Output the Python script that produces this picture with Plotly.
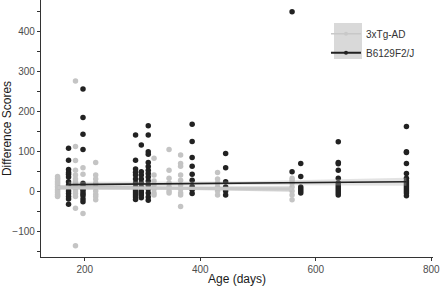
import plotly.graph_objects as go

# ---- data ----
tg_ages = [153, 184, 197, 219, 320, 346, 366, 430, 559]
tg_scores = [
    [36, 32, 28, 24, 20, 16, 12, 8, 4, 0, -4, -8, -12, -14],
    [275, 111, 76, 52, 40, 30, 23, 15, 8, 0, -6, -14, -43, -137],
    [58, 42, 20, 5, -8, -56],
    [71, 40, 30, 20, 10, 0, -8, -14, -22],
    [82, 40, 25, 15, 5, -5, -10],
    [104, 52, 32, 20, 10, 0, -5],
    [90, 69, 62, 40, 27, 15, 5, -5, -10, -39],
    [46, 30, 20, 10, 0, -10],
    [32, 27, 20, 10, 0, -10, -22],
]
b6_ages = [172, 197, 288, 298, 310, 386, 444, 559, 574, 639, 757]
b6_scores = [
    [107, 77, 54, 46, 42, 35, 23, 15, 8, 0, -6, -14, -20, -33],
    [255, 184, 142, 104, 19, 12, 5, 0, -6, -12, -20, -27],
    [140, 77, 55, 47, 40, 30, 20, 10, 5, 0, -5, -10, -15, -21],
    [115, 48, 40, 30, 20, 10, 0, -5, -10, -17],
    [163, 140, 98, 92, 71, 61, 52, 44, 35, 25, 15, 5, -5, -15, -23],
    [167, 124, 84, 62, 42, 27, 11, 3, -6],
    [94, 58, 23, 10, 0, -10],
    [448, 48],
    [69, 36, 10, 5, 0, -5],
    [123, 71, 68, 52, 32, 20, 15, 10, 5, 0, -5, -10],
    [161, 98, 96, 69, 44, 32, 25, 20, 15, 10, 5, 0, -5, -12],
]

# fitted lines and confidence bands
tg_fit_x = [153, 356, 559]
tg_fit_y = [9, 7, 5]
tg_fit_lo = [3, 3, -2]
tg_fit_hi = [15, 11, 12]
b6_fit_x = [172, 464, 757]
b6_fit_y = [16, 19.5, 23]
b6_fit_lo = [9, 15, 13]
b6_fit_hi = [23, 24, 33]

series_names = ["3xTg-AD", "B6129F2/J"]


def flatten(ages, scores):
    xs, ys = [], []
    for a, vals in zip(ages, scores):
        xs += [a] * len(vals)
        ys += vals
    return xs, ys


tg_x, tg_y = flatten(tg_ages, tg_scores)
b6_x, b6_y = flatten(b6_ages, b6_scores)

GRAY = "#c4c4c4"
BLACK = "#222222"

fig = go.Figure()
fig.add_trace(go.Scatter(x=tg_x, y=tg_y, mode="markers", showlegend=False,
                         marker=dict(color=GRAY, size=5.5)))
fig.add_trace(go.Scatter(x=b6_x, y=b6_y, mode="markers", showlegend=False,
                         marker=dict(color=BLACK, size=5.5)))

# ribbons
fig.add_trace(go.Scatter(x=tg_fit_x + tg_fit_x[::-1], y=tg_fit_hi + tg_fit_lo[::-1],
                         fill="toself", fillcolor="rgba(185,185,185,0.6)",
                         line=dict(width=0), mode="lines", showlegend=False))
fig.add_trace(go.Scatter(x=tg_fit_x, y=tg_fit_y, mode="lines", showlegend=False,
                         line=dict(color="#c8c8c8", width=3)))
fig.add_trace(go.Scatter(x=b6_fit_x + b6_fit_x[::-1], y=b6_fit_hi + b6_fit_lo[::-1],
                         fill="toself", fillcolor="rgba(175,175,175,0.35)",
                         line=dict(width=0), mode="lines", showlegend=False))
fig.add_trace(go.Scatter(x=b6_fit_x, y=b6_fit_y, mode="lines", showlegend=False,
                         line=dict(color=BLACK, width=1.6)))

# legend entries
fig.add_trace(go.Scatter(x=[None], y=[None], mode="lines+markers", name=series_names[0],
                         line=dict(color="#c8c8c8", width=1.5), marker=dict(color="#c8c8c8", size=4)))
fig.add_trace(go.Scatter(x=[None], y=[None], mode="lines+markers", name=series_names[1],
                         line=dict(color=BLACK, width=2), marker=dict(color=BLACK, size=4)))

FONT = "Arial, Liberation Sans, sans-serif"

fig.update_layout(
    width=440, height=286,
    margin=dict(l=41, r=7, t=0, b=29),
    paper_bgcolor="white", plot_bgcolor="white",
    font=dict(family=FONT, size=10, color="#4d4d4d"),
    showlegend=True,
    legend=dict(x=0.727, y=0.925, xanchor="left", yanchor="top",
                bgcolor="rgba(0,0,0,0)", borderwidth=0,
                font=dict(size=10, color="#333333"),
                itemwidth=30, tracegroupgap=0),
    shapes=[dict(type="rect", xref="paper", yref="paper",
                 x0=(334 - 41) / 392, x1=(362 - 41) / 392,
                 y0=1 - 59 / 257, y1=1 - 23 / 257,
                 fillcolor="#d9d9d9", line=dict(width=0), layer="above")],
)

fig.update_xaxes(range=[124.3, 803], tickvals=[200, 400, 600, 800],
                 showgrid=False, zeroline=False,
                 showline=True, linecolor="#333333", linewidth=1.2,
                 ticks="outside", ticklen=3, tickcolor="#333333", tickwidth=1,
                 ticklabeloverflow="allow",
                 tickfont=dict(size=10, color="#4d4d4d"),
                 title=dict(text="Age (days)", font=dict(size=12, color="#1a1a1a"), standoff=0))
fig.update_yaxes(range=[-165, 477.5], tickvals=[-100, 0, 100, 200, 300, 400],
                 showgrid=False, zeroline=False,
                 showline=True, linecolor="#333333", linewidth=1.2,
                 ticks="outside", ticklen=3, tickcolor="#333333", tickwidth=1,
                 minor=dict(tickvals=[-150, -50, 50, 150, 250, 350, 450],
                            ticks="outside", ticklen=3, tickcolor="#333333", tickwidth=1),
                 tickfont=dict(size=10, color="#4d4d4d"),
                 title=dict(text="Difference Scores", font=dict(size=12, color="#1a1a1a"), standoff=4))

fig.write_html("out.html")
